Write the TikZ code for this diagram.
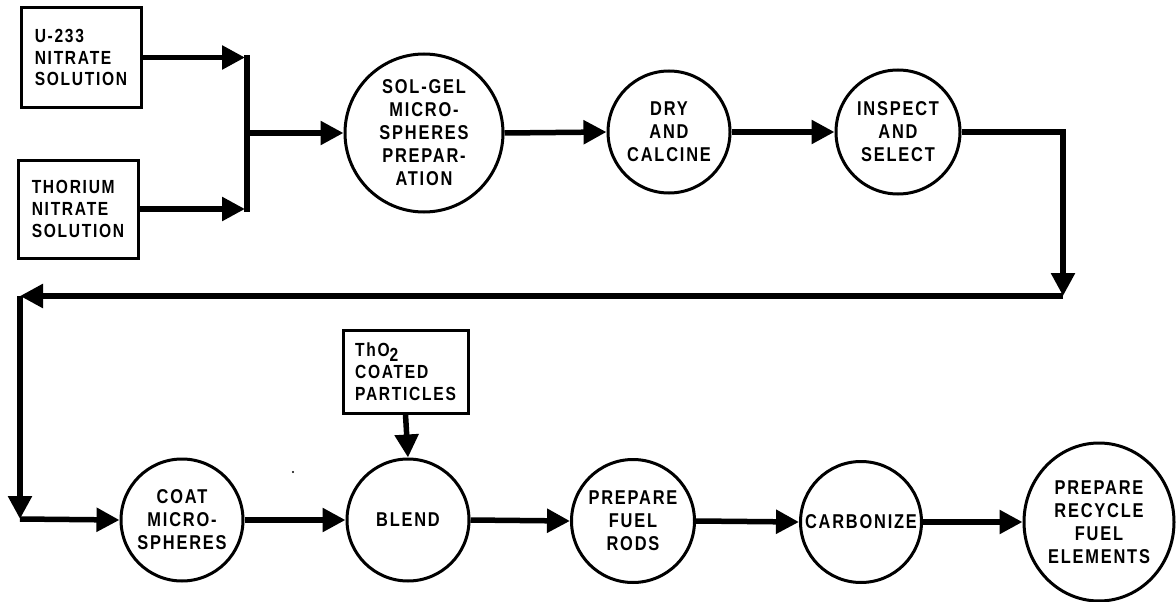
\documentclass[tikz,border=0pt]{standalone}
\usepackage{fontspec}
\usetikzlibrary{arrows.meta,shapes.geometric}
\newfontfamily\lblfont{Liberation Sans}[FakeStretch=0.82,LetterSpace=9]
\tikzset{
  box/.style={draw, rectangle, line width=3pt, align=left, inner sep=0pt,
    font=\lblfont\bfseries\fontsize{19}{21.7}\selectfont},
  proc/.style={draw, circle, line width=3pt, align=center, inner sep=0pt,
    font=\lblfont\bfseries\fontsize{20}{23}\selectfont},
  procel/.style={draw, ellipse, line width=3pt, align=center, inner sep=0pt,
    font=\lblfont\bfseries\fontsize{20}{23}\selectfont},
  flow/.style={line width=5.5pt, -{Triangle[length=23pt,width=23pt]}},
  plain/.style={line width=5.5pt},
}
\begin{document}
\begin{tikzpicture}[x=1pt,y=-1pt]
\useasboundingbox (0,0) rectangle (1176,602);
% input boxes
\node[box, minimum width=120pt, minimum height=99pt] (u233) at (81,57.5) {U-233\\NITRATE\\SOLUTION};
\node[box, minimum width=120pt, minimum height=98pt] (thor) at (78,209) {THORIUM\\NITRATE\\SOLUTION};
\node[box, minimum width=125pt, minimum height=83pt] (tho2) at (405.5,371.5) {ThO\raisebox{-0.28em}{2}\\[1pt]COATED\\PARTICLES};
% processes
\node[proc, minimum size=158pt] (solgel) at (424,133) {SOL-GEL\\MICRO-\\SPHERES\\PREPAR-\\ATION};
\node[proc, minimum size=122pt] (dry) at (669,132) {DRY\\AND\\CALCINE};
\node[proc, minimum size=124pt] (insp) at (898,132) {INSPECT\\AND\\SELECT};
\node[proc, minimum size=122pt] (coat) at (182,520) {COAT\\MICRO-\\SPHERES};
\node[proc, minimum size=122pt] (blend) at (408,520) {BLEND};
\node[proc, minimum size=123pt] (rods) at (633,521) {PREPARE\\FUEL\\RODS};
\node[proc, minimum size=121pt] (carb) at (861,522) {CARBONIZE};
\node[procel, minimum width=150pt, minimum height=158pt] (recy) at (1099,522) {PREPARE\\RECYCLE\\FUEL\\ELEMENTS};
% junction coordinates
\coordinate (jt) at (247,57.5);
\coordinate (jb) at (247,209);
\coordinate (jm) at (247,133);
\coordinate (r1) at (1063,296);
\coordinate (l1) at (20,296);
\coordinate (l2) at (20,519);
% connectors
\draw[flow] (u233.east) -- ([xshift=-2pt]jt);
\draw[flow] (thor.east) -- ([xshift=-2pt]jb);
\draw[plain, line cap=rect] (jt) -- (jb);
\draw[flow] (jm) -- (solgel.west);
\draw[flow] (solgel.east) -- (dry.west);
\draw[flow] (dry.east) -- (insp.west);
\draw[flow] (insp.east) -| (r1);
\draw[flow] (r1) -- (l1);
\draw[flow] (l1) -- (l2);
\draw[flow] (l2) -- (coat.west);
\draw[flow] (coat.east) -- (blend.west);
\draw[flow] (tho2.south) -- (blend.north);
\draw[flow] (blend.east) -- (rods.west);
\draw[flow] (rods.east) -- (carb.west);
\draw[flow] (carb.east) -- (recy.west);
% stray speck
\fill (293,472) circle (1.2pt);
\end{tikzpicture}
\end{document}
